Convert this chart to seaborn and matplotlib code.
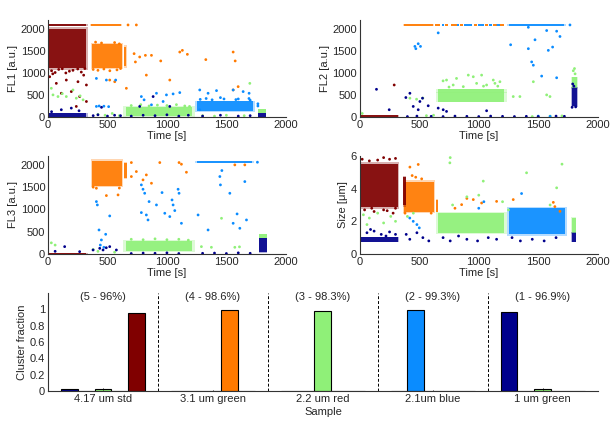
import numpy as np
import pandas as pd
import seaborn as sns
import matplotlib.pyplot as plt
from matplotlib.ticker import MultipleLocator

sns.set_style('white')
plt.rcParams['font.family'] = ['Liberation Sans', 'DejaVu Sans']
plt.rcParams['font.size'] = 8

# cluster colours (1..5)
colors = {1: '#00008C', 2: '#0A8CFF', 3: '#8FF078', 4: '#FF7A00', 5: '#800000'}

# dense parts of each cloud: (cluster, t_start, t_end, low, high)
fl1_cores = [(5, 0, 320, 1120, 2000), (5, 0, 320, 2065, 2115), (4, 365, 615, 2065, 2115),
             (4, 370, 620, 1120, 1650), (4, 640, 660, 1150, 1600), (3, 655, 1210, 20, 230),
             (2, 1255, 1720, 130, 360), (1, 0, 320, 0, 80), (3, 1770, 1830, 90, 180),
             (1, 1770, 1830, 0, 90)]
fl2_cores = [(5, 0, 320, 0, 50), (4, 370, 615, 2065, 2115), (4, 635, 670, 2065, 2115),
             (4, 720, 740, 2065, 2115), (4, 770, 815, 2065, 2115), (4, 840, 870, 2065, 2115),
             (4, 960, 985, 2065, 2115), (4, 1050, 1080, 2065, 2115), (4, 1120, 1150, 2065, 2115),
             (4, 1180, 1210, 2065, 2115), (2, 690, 710, 2065, 2115), (2, 820, 835, 2065, 2115),
             (2, 880, 940, 2065, 2115), (2, 995, 1040, 2065, 2115), (2, 1090, 1110, 2065, 2115),
             (2, 1150, 1175, 2065, 2115), (2, 1255, 1715, 2065, 2115), (3, 660, 1215, 350, 550),
             (3, 660, 1215, 550, 630), (3, 1780, 1830, 650, 900), (1, 1780, 1830, 250, 650)]
fl3_cores = [(5, 0, 320, 0, 30), (4, 370, 620, 1530, 2090), (4, 640, 665, 1700, 2050),
             (2, 1255, 1715, 2045, 2095), (3, 655, 1210, 60, 300), (3, 1775, 1840, 350, 450),
             (1, 1775, 1840, 50, 350)]
size_cores = [(5, 0, 320, 2.9, 5.5), (4, 370, 620, 2.6, 4.4), (5, 365, 390, 3.0, 4.7),
              (4, 640, 660, 2.6, 3.3), (3, 660, 1215, 1.3, 2.5), (2, 1255, 1725, 1.2, 2.8),
              (1, 0, 320, 0.75, 1.05), (3, 1780, 1820, 1.3, 2.2), (1, 1780, 1820, 0.75, 1.3)]

# scattered events: (time, value) per cluster
fl1_pts = {
    5: [(14, 914), (70, 764), (154, 839), (252, 801), (323, 727), (112, 539), (196, 577), (266, 464),
        (323, 352), (238, 240), (30, 1050), (90, 1080), (150, 1000), (210, 1060), (280, 1020),
        (310, 1100), (60, 1010), (250, 1090), (180, 1040), (120, 1095), (300, 950), (40, 980)],
    4: [(673, 2090), (743, 2090), (724, 1438), (771, 1363), (819, 1400), (870, 1400), (735, 1250),
        (827, 951), (948, 1273), (1024, 839), (1108, 1475), (1130, 1513), (1172, 1423), (1327, 1303),
        (1557, 1475), (1574, 1273), (659, 652), (519, 839), (561, 801), (1557, 614), (1599, 689),
        (380, 1080), (420, 1060), (470, 1090), (520, 1050), (580, 1070), (610, 1100), (400, 1700),
        (450, 1680), (560, 1690), (600, 1660)],
    3: [(42, 502), (84, 464), (154, 464), (238, 427), (210, 614), (28, 652), (295, 390), (120, 530),
        (270, 480), (420, 60), (480, 40), (540, 80), (600, 30), (1697, 764), (1300, 30), (1400, 20),
        (1500, 40), (1650, 30), (700, 260), (780, 280), (850, 250), (920, 270), (1000, 260),
        (1080, 280), (1150, 250), (1190, 240)],
    2: [(407, 876), (491, 839), (569, 839), (407, 240), (430, 250), (470, 245), (510, 235), (785, 464),
        (808, 390), (912, 539), (996, 502), (1052, 524), (1108, 554), (870, 277), (968, 352),
        (1276, 614), (1346, 539), (1417, 599), (1557, 614), (1641, 577), (1691, 539), (1276, 165),
        (1330, 420), (1450, 440), (1600, 410), (1690, 420), (1280, 400), (1380, 390), (1480, 410),
        (1580, 395), (1700, 380), (1765, 300), (1765, 250)],
    1: [(112, 165), (196, 202), (261, 142), (30, 120), (380, 30), (420, 50), (500, 20), (560, 40),
        (610, 30), (700, 20), (800, 40), (900, 30), (1000, 50), (1100, 20), (1180, 40), (771, 240),
        (1024, 240), (884, 464), (1300, 20), (1450, 40), (1600, 20), (1700, 30), (450, 220)],
}
fl2_pts = {
    5: [(289, 727)],
    3: [(729, 839), (813, 876), (954, 914), (1024, 951), (1122, 839), (912, 951), (1066, 727),
        (785, 727), (1178, 801), (870, 689), (982, 764), (1136, 764), (700, 820), (750, 680),
        (1040, 700), (1160, 700), (421, 427), (477, 404), (530, 430), (1290, 464), (1346, 464),
        (1571, 502), (1599, 464), (1459, 801), (1805, 1100), (1795, 1050), (1810, 980), (0, 120),
        (20, 80), (1600, 20), (1700, 25), (1450, 10), (560, 30), (620, 40)],
    2: [(463, 1603), (491, 1663), (471, 1551), (510, 1603), (659, 1910), (1268, 1640), (1417, 1551),
        (1473, 1753), (1445, 1251), (1459, 1176), (1571, 1963), (1655, 1948), (1683, 1828),
        (1621, 1588), (1585, 1513), (1529, 929), (1655, 891), (1767, 2090), (1417, 2037),
        (1500, 20), (1600, 15)],
    1: [(140, 629), (247, 165), (387, 442), (421, 539), (449, 240), (505, 352), (527, 427), (575, 255),
        (491, 165), (659, 202), (701, 165), (729, 127), (1066, 142), (400, 10), (480, 20), (600, 15),
        (700, 10), (800, 20), (900, 15), (1000, 10), (1100, 20), (1200, 15), (1300, 10), (1400, 15),
        (1500, 10), (1650, 20), (1720, 15), (1790, 750), (1800, 700), (1785, 220), (1815, 230)],
}
fl3_pts = {
    4: [(701, 2052), (799, 1663), (827, 1775), (870, 1588), (940, 2052), (1102, 2052), (1122, 2015),
        (1164, 1835), (1571, 2000), (1655, 2000), (589, 1326), (491, 1311), (407, 1476), (701, 1738),
        (743, 1850), (380, 1500), (600, 1480)],
    3: [(28, 250), (60, 200), (1290, 165), (1374, 150), (1571, 150), (1459, 801), (1610, 160),
        (420, 60), (380, 100), (560, 40), (700, 330), (800, 320), (900, 340), (1000, 320),
        (1100, 330), (1180, 310)],
    2: [(407, 1176), (415, 1101), (519, 854), (429, 539), (485, 442), (449, 315), (785, 1551),
        (799, 1453), (813, 1363), (850, 1176), (785, 929), (827, 876), (841, 764), (912, 1101),
        (959, 1378), (982, 914), (1043, 1213), (1052, 1101), (1066, 974), (1024, 839), (1094, 1453),
        (1102, 1363), (1122, 689), (1262, 876), (1346, 539), (1445, 1738), (1462, 1873), (1450, 1551),
        (1529, 1363), (1557, 689), (1590, 899), (1613, 577), (1669, 764), (1655, 1625), (1761, 2060),
        (440, 200), (470, 150)],
    1: [(140, 165), (266, 52), (379, 90), (435, 127), (463, 90), (519, 165), (575, 90), (490, 140),
        (700, 10), (800, 20), (900, 15), (1000, 25), (1100, 10), (1300, 15), (1400, 20), (1500, 10),
        (1600, 25), (1700, 15), (60, 60)],
}
size_pts = {
    5: [(20, 5.8), (80, 5.7), (150, 5.75), (200, 5.9), (250, 5.8), (300, 5.85), (40, 2.7), (120, 2.6),
        (200, 2.7), (280, 2.5), (300, 2.8), (100, 2.8), (230, 2.65)],
    4: [(491, 5.48), (421, 5.32), (440, 4.8), (470, 4.7), (520, 4.6), (1024, 3.12), (1150, 3.22),
        (856, 3.02), (954, 3.33), (1290, 3.33), (1627, 3.16), (1683, 2.61), (1640, 2.9), (900, 3.4),
        (800, 2.8), (380, 2.5), (600, 2.5)],
    3: [(757, 5.58), (1038, 4.46), (1402, 4.97), (1655, 4.05), (1700, 5.5), (900, 3.5), (1000, 3.6),
        (1200, 3.2), (780, 3.0), (30, 2.4), (80, 2.2), (150, 2.5), (200, 1.9), (260, 2.3), (300, 2.0),
        (60, 1.8), (400, 2.3), (450, 2.5), (1600, 3.0), (1250, 2.7), (760, 5.9)],
    2: [(449, 2.0), (480, 1.8), (420, 2.2), (1360, 3.7), (1043, 3.2), (1000, 2.8), (500, 1.6)],
    1: [(60, 1.3), (120, 1.4), (180, 1.2), (250, 1.35), (300, 1.2), (90, 1.5), (220, 1.1), (390, 1.2),
        (420, 0.9), (480, 1.3), (530, 1.0), (580, 0.8), (700, 1.0), (760, 0.8), (830, 1.1), (900, 0.9),
        (990, 0.8), (1080, 1.0), (1150, 0.9), (1280, 1.0), (1350, 0.8), (1450, 0.9), (1550, 0.8),
        (1650, 1.0)],
}

# bar chart
samples = ['4.17 um std', '3.1 um green', '2.2 um red', '2.1um blue', '1 um green']
frac_c1 = [0.03, 0.002, 0.003, 0.001, 0.969]
frac_c2 = [0.0, 0.0, 0.002, 0.993, 0.002]
frac_c3 = [0.02, 0.005, 0.983, 0.004, 0.025]
frac_c4 = [0.0, 0.986, 0.006, 0.001, 0.0]
frac_c5 = [0.96, 0.005, 0.0, 0.0, 0.0]
err_c3 = [0.012, 0.012, 0.0, 0.012, 0.012]
labels = ['(5 - 96%)', '(4 - 98.6%)', '(3 - 98.3%)', '(2 - 99.3%)', '(1 - 96.9%)']

fig = plt.figure(figsize=(6.13, 4.25), dpi=100)
ax1 = fig.add_axes([0.0783, 0.7247, 0.388, 0.228])
ax2 = fig.add_axes([0.587, 0.7247, 0.388, 0.228])
ax3 = fig.add_axes([0.0783, 0.4024, 0.388, 0.2306])
ax4 = fig.add_axes([0.587, 0.4024, 0.388, 0.2306])
ax5 = fig.add_axes([0.0783, 0.08, 0.897, 0.2306])


def style(ax):
    sns.despine(ax=ax)
    for s in ['left', 'bottom']:
        ax.spines[s].set_color('#333333')
        ax.spines[s].set_linewidth(0.8)
    ax.tick_params(direction='in', length=3, width=0.6, color='#333333', labelsize=8, pad=2)


def scatter_panel(ax, cores, pts, ylabel, ymax, yticks):
    for c, t0, t1, lo, hi in cores:
        # soft fringe round the dense part, then the dense part itself
        dt, dv = 0.04 * (t1 - t0), 0.06 * (hi - lo)
        ax.bar(t0 - dt, hi - lo + 2 * dv, width=t1 - t0 + 2 * dt, bottom=lo - dv, align='edge',
               color=colors[c], alpha=0.3, linewidth=0)
        ax.bar(t0, hi - lo, width=t1 - t0, bottom=lo, align='edge', color=colors[c],
               alpha=0.9, linewidth=0)
    rows = [(t, v, c) for c in pts for t, v in pts[c]]
    df = pd.DataFrame(rows, columns=['t', 'v', 'cluster'])
    sns.scatterplot(data=df, x='t', y='v', hue='cluster', palette=colors, s=4,
                    linewidth=0, legend=False, ax=ax)
    ax.set_xlim(0, 2000)
    ax.set_ylim(0, ymax)
    ax.set_xticks([0, 500, 1000, 1500, 2000])
    ax.set_yticks(yticks)
    ax.set_xlabel('Time [s]', labelpad=1)
    ax.set_ylabel(ylabel, labelpad=2)
    style(ax)


fl_ticks = [0, 500, 1000, 1500, 2000]
scatter_panel(ax1, fl1_cores, fl1_pts, 'FL1 [a.u.]', 2200, fl_ticks)
scatter_panel(ax2, fl2_cores, fl2_pts, 'FL2 [a.u.]', 2200, fl_ticks)
scatter_panel(ax3, fl3_cores, fl3_pts, 'FL3 [a.u.]', 2200, fl_ticks)
scatter_panel(ax4, size_cores, size_pts, 'Size [\u03bcm]', 6, [0, 2, 4, 6])

# cluster fraction bars
fracs = [frac_c1, frac_c2, frac_c3, frac_c4, frac_c5]
bar_df = pd.DataFrame([(samples[i], k + 1, fracs[k][i]) for i in range(5) for k in range(5)],
                      columns=['sample', 'cluster', 'fraction'])
bw = 0.77
sns.barplot(data=bar_df, x='sample', y='fraction', hue='cluster', order=samples,
            hue_order=[1, 2, 3, 4, 5], palette=colors, width=bw, dodge=True, saturation=1,
            edgecolor='black', linewidth=0.8, legend=False, errorbar=None, ax=ax5)
xs = np.arange(len(samples))
ax5.errorbar(xs, frac_c3, yerr=err_c3, fmt='none', ecolor='black', elinewidth=0.6)
for x in xs[:-1]:
    ax5.axvline(x + 0.5, ymin=0, ymax=1, color='black', ls=(0, (3, 2)), lw=0.7)
for x, lab in zip(xs, labels):
    ax5.text(x, 1.15, lab, ha='center', va='center', fontsize=8)
ax5.set_xlim(-0.5, 4.5)
ax5.set_ylim(0, 1.2)
ax5.set_yticks([0, 0.2, 0.4, 0.6, 0.8, 1])
ax5.set_yticklabels(['0', '0.2', '0.4', '0.6', '0.8', '1'])
ax5.yaxis.set_minor_locator(MultipleLocator(0.1))
ax5.set_xlabel('Sample', labelpad=2)
ax5.set_ylabel('Cluster fraction', labelpad=2)
style(ax5)
ax5.tick_params(axis='x', length=0)
ax5.tick_params(axis='y', which='minor', direction='in', length=2, width=0.5, color='#333333')

fig.savefig('out.png', dpi=100)
